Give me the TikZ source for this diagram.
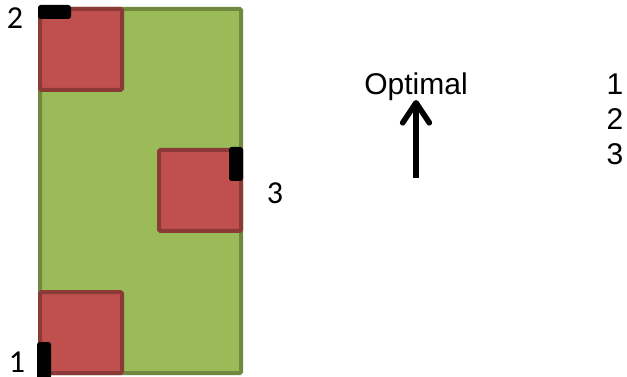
\documentclass[tikz,border=0pt]{standalone}
\usepackage{fontspec}
\setmainfont{Liberation Sans}
\newfontfamily\labelfont{Carlito}
\usetikzlibrary{arrows.meta}
\definecolor{areagreen}{HTML}{9BBB59}
\definecolor{areaedge}{HTML}{71893F}
\definecolor{blockred}{HTML}{C0504D}
\definecolor{blockedge}{HTML}{8C3A38}
\tikzset{
    area/.style = {draw=areaedge, fill=areagreen, line width=3pt, rounded corners=1pt},
    block/.style = {draw=blockedge, fill=blockred, line width=3pt, rounded corners=1pt},
    pin/.style = {fill=black, rounded corners=2pt},
    tag/.style = {font=\labelfont\fontsize{24}{28}\selectfont, inner sep=0pt, anchor=base},
    txt/.style = {font=\fontsize{22.5}{26}\selectfont, inner sep=0pt, anchor=base}
}
\begin{document}
\begin{tikzpicture}[x=0.75pt, y=-0.75pt]
    \useasboundingbox (0,0) rectangle (627,377);
    %
    \draw [area] (40,9) rectangle (241,373);
    \draw [block] (40,9) rectangle (122,90);
    \draw [block] (159,150) rectangle (241,231);
    \draw [block] (40,292) rectangle (122,373);
    %
    \fill [pin] (38,5) rectangle (71,19);
    \fill [pin] (229,147) rectangle (243,181);
    \fill [pin] (37,342) rectangle (51,379);
    %
    \draw
    (15,29)node(t2)[tag]{2}
    (275,204)node(t3)[tag]{3}
    (17,372)node(t1)[tag]{1};
    %
    \draw
    (416,95)node(opt)[txt]{Optimal}
    (615,95)node(o1)[txt]{1}
    (615,130)node(o2)[txt]{2}
    (615,165)node(o3)[txt]{3};
    %
    \coordinate (low) at (416,178);
    \coordinate (tip) at (416,100);
    \draw [-{Straight Barb[length=15pt, width=20pt, line cap=round, line join=round]}, line width=4.2pt](low)--(tip);
\end{tikzpicture}
\end{document}
